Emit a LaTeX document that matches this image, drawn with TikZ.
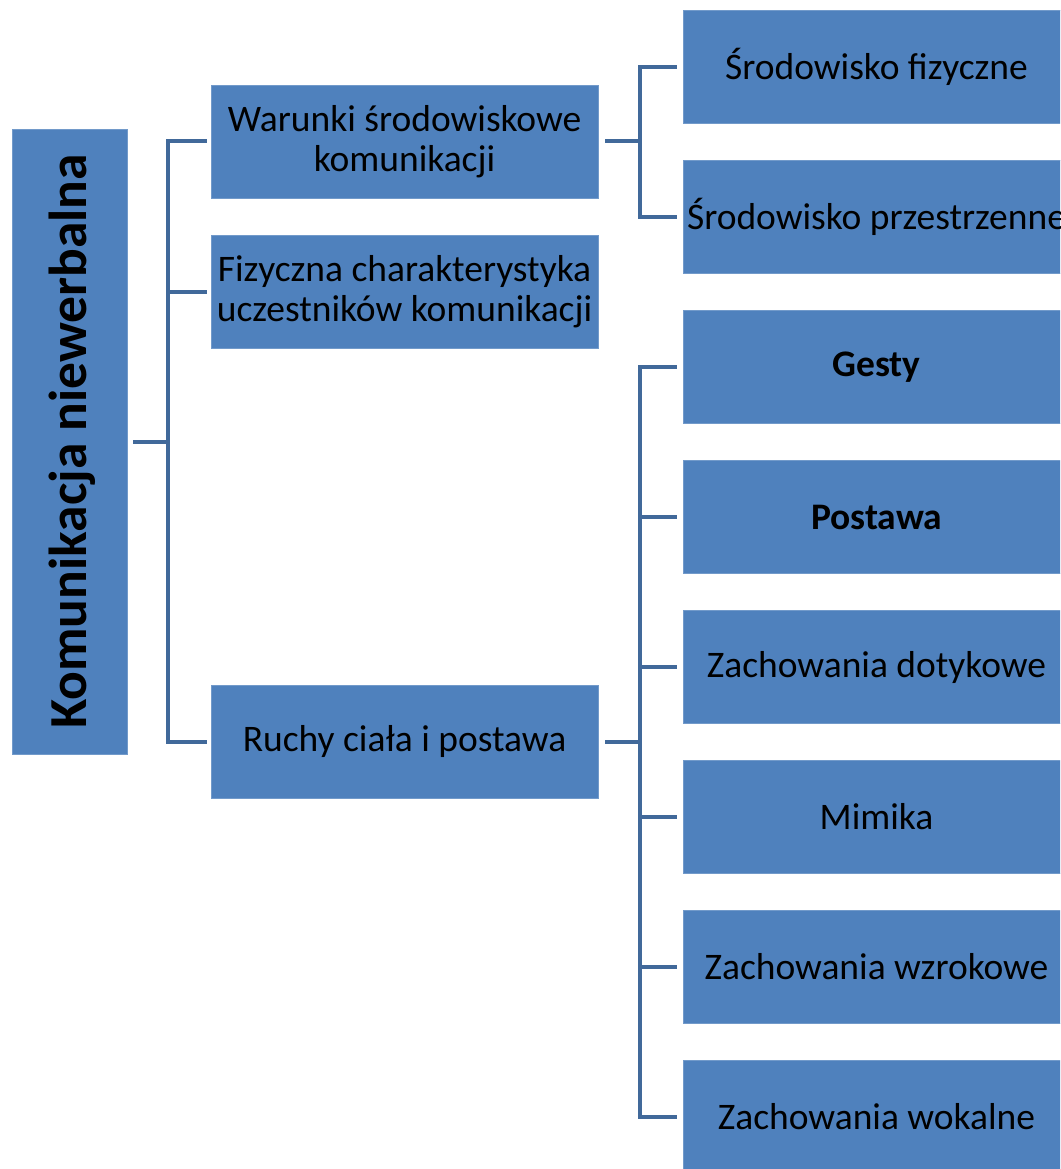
\documentclass[tikz,border=0pt]{standalone}
\usepackage{fontspec}
\setmainfont{Carlito}
\definecolor{boxblue}{HTML}{4F81BD}
\definecolor{connblue}{HTML}{41699A}
\begin{document}
\begin{tikzpicture}[x=1pt,y=-1pt,
  box/.style={fill=boxblue, draw=boxblue!80!white, line width=0.8pt, minimum width=387pt, minimum height=113pt, inner sep=0pt, align=center, font=\fontsize{37.5}{40}\selectfont, text=black},
  rootbox/.style={fill=boxblue, draw=boxblue!80!white, line width=0.8pt, minimum width=115pt, minimum height=625pt, inner sep=0pt},
  conn/.style={draw=connblue, line width=4pt}
]
\useasboundingbox (0,0) rectangle (1060,1169);
\clip (0,0) rectangle (1060,1169);
\node[rootbox] (root) at (69.5,441.5) {};
\node[rotate=90, font=\fontsize{53.5}{60}\selectfont\bfseries] (roottext) at ([xshift=3pt]root.center) {Komunikacja niewerbalna};

\node[box] (w) at (404.5,141.5) {Warunki środowiskowe\\komunikacji};
\node[box] (f) at (404.5,291.5) {Fizyczna charakterystyka\\uczestników komunikacji};
\node[box] (r) at (404.5,741.5) {Ruchy ciała i postawa};

\node[box] (s1) at (876.5,67) {Środowisko fizyczne};
\node[box] (s2) at (876.5,217) {Środowisko przestrzenne};
\node[box] (g1) at (876.5,367) {\bfseries Gesty};
\node[box] (g2) at (876.5,517) {\bfseries Postawa};
\node[box] (g3) at (876.5,667) {Zachowania dotykowe};
\node[box] (g4) at (876.5,817) {Mimika};
\node[box] (g5) at (876.5,967) {Zachowania wzrokowe};
\node[box] (g6) at (876.5,1117) {Zachowania wokalne};

% root bracket
\coordinate (j1) at (168,441.5);
\draw[conn] ([xshift=-4pt]w.west) -| (j1 |- r.west) -- ([xshift=-4pt]r.west);
\draw[conn] ([xshift=-4pt]f.west) -- (j1 |- f.west);
\draw[conn] ([xshift=6pt]root.east) -- (j1);

% Warunki bracket
\coordinate (j2) at (640,141.5);
\draw[conn] ([xshift=-6pt]s1.west) -| (j2 |- s2.west) -- ([xshift=-6pt]s2.west);
\draw[conn] ([xshift=7pt]w.east) -- (j2);

% Ruchy bracket
\coordinate (j3) at (640,741.5);
\draw[conn] ([xshift=-6pt]g1.west) -| (j3 |- g6.west) -- ([xshift=-6pt]g6.west);
\foreach \n in {g2,g3,g4,g5} \draw[conn] ([xshift=-6pt]\n.west) -- (j3 |- \n.west);
\draw[conn] ([xshift=7pt]r.east) -- (j3);
\end{tikzpicture}
\end{document}
